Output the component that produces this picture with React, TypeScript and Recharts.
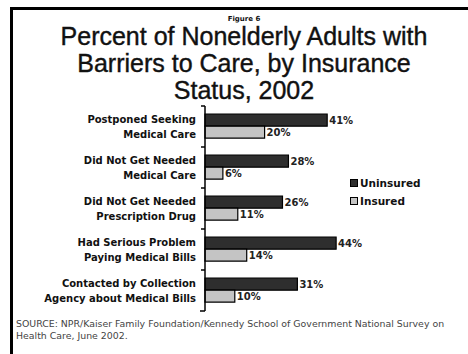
import { BarChart, Bar, XAxis, YAxis, LabelList } from 'recharts';

const categories = [
  'Postponed Seeking\nMedical Care',
  'Did Not Get Needed\nMedical Care',
  'Did Not Get Needed\nPrescription Drug',
  'Had Serious Problem\nPaying Medical Bills',
  'Contacted by Collection\nAgency about Medical Bills',
];
const uninsured = [41, 28, 26, 44, 31];
const insured = [20, 6, 11, 14, 10];
const seriesNames = ['Uninsured', 'Insured'];

const data = categories.map((name, i) => ({
  name,
  uninsured: uninsured[i],
  insured: insured[i],
}));

const W = 468;
const H = 354;
const AXIS_X = 205;
const TOP = 106;
const BOTTOM = 311;
const BAND = (BOTTOM - TOP) / categories.length;

const DARK = '#2e2e2e';
const LIGHT = '#c4c4c4';
const seriesColors = [DARK, LIGHT];
const boldFont = '"DejaVu Sans", Verdana, sans-serif';

// two-line category label plus a small tick at the band edges
const CategoryTick = ({ y, payload, index }: any) => {
  const lines = String(payload.value).split('\n');
  return (
    <g>
      <line x1={AXIS_X - 4} x2={AXIS_X} y1={y - BAND / 2} y2={y - BAND / 2} stroke="#000" strokeWidth={1.5} />
      {index === categories.length - 1 && (
        <line x1={AXIS_X - 5} x2={AXIS_X} y1={y + BAND / 2} y2={y + BAND / 2} stroke="#000" strokeWidth={1.5} />
      )}
      <text
        x={AXIS_X - 9}
        y={y}
        textAnchor="end"
        fontFamily={boldFont}
        fontWeight="bold"
        fontSize={10}
        fill="#111"
      >
        <tspan x={AXIS_X - 9} dy={-4}>{lines[0]}</tspan>
        <tspan x={AXIS_X - 9} dy={15.5}>{lines[1]}</tspan>
      </text>
    </g>
  );
};

const labelStyle = { fontFamily: boldFont, fontWeight: 'bold', fontSize: 10, fill: '#222' };

const App = () => {
  return (
    <div
      style={{
        position: 'absolute',
        left: 0,
        top: 0,
        width: W,
        height: H,
        overflow: 'hidden',
        background: '#fff',
      }}
    >
      <div
        style={{
          position: 'absolute',
          left: 10,
          top: 7,
          width: W + 20,
          height: H + 20,
          borderTop: '3px solid #000',
          borderLeft: '3px solid #000',
        }}
      />
      <div
        style={{
          position: 'absolute',
          left: 20,
          width: 448,
          top: 15,
          textAlign: 'center',
          fontFamily: boldFont,
          fontWeight: 'bold',
          fontSize: 7,
          lineHeight: '8px',
          color: '#111',
        }}
      >
        Figure 6
      </div>
      <div
        style={{
          position: 'absolute',
          left: 20,
          width: 448,
          top: 23,
          textAlign: 'center',
          fontFamily: '"Liberation Sans", Arial, sans-serif',
          fontSize: 25,
          lineHeight: '27px',
          color: '#111',
          WebkitTextStroke: '0.4px #111',
        }}
      >
        Percent of Nonelderly Adults with
        <br />
        Barriers to Care, by Insurance
        <br />
        Status, 2002
      </div>

      <div style={{ position: 'absolute', left: 0, top: 0 }}>
        <BarChart
          width={W}
          height={H}
          data={data}
          layout="vertical"
          margin={{ top: TOP, bottom: H - BOTTOM, left: 0, right: 114 }}
          barCategoryGap="20%"
          barGap={0}
        >
          <XAxis type="number" domain={[0, 50]} hide />
          <YAxis
            type="category"
            dataKey="name"
            width={AXIS_X}
            axisLine={{ stroke: '#000', strokeWidth: 1.5 }}
            tickLine={false}
            tick={<CategoryTick />}
            interval={0}
          />
          <Bar dataKey="uninsured" name={seriesNames[0]} fill={DARK} stroke="#000" strokeWidth={1.2} isAnimationActive={false}>
            <LabelList dataKey="uninsured" position="right" offset={2} formatter={(v: any) => `${v}%`} style={labelStyle} />
          </Bar>
          <Bar dataKey="insured" name={seriesNames[1]} fill={LIGHT} stroke="#000" strokeWidth={1.2} isAnimationActive={false}>
            <LabelList dataKey="insured" position="right" offset={2} formatter={(v: any) => `${v}%`} style={labelStyle} />
          </Bar>
        </BarChart>
      </div>

      <div
        style={{
          position: 'absolute',
          left: 350,
          top: 174,
          fontFamily: boldFont,
          fontWeight: 'bold',
          fontSize: 10.5,
          color: '#111',
        }}
      >
        {seriesNames.map((n, i) => (
          <div key={n} style={{ display: 'flex', alignItems: 'center', height: 18 }}>
            <span
              style={{
                display: 'inline-block',
                width: 6,
                height: 6,
                background: seriesColors[i],
                border: '1.5px solid #000',
                marginRight: 2,
              }}
            />
            {n}
          </div>
        ))}
      </div>

      <div
        style={{
          position: 'absolute',
          left: 16,
          top: 318,
          fontFamily: '"DejaVu Sans", Verdana, sans-serif',
          fontSize: 9.4,
          lineHeight: '12px',
          color: '#444',
          whiteSpace: 'nowrap',
        }}
      >
        SOURCE: NPR/Kaiser Family Foundation/Kennedy School of Government National Survey on
        <br />
        Health Care, June 2002.
      </div>
    </div>
  );
};

export default App;
